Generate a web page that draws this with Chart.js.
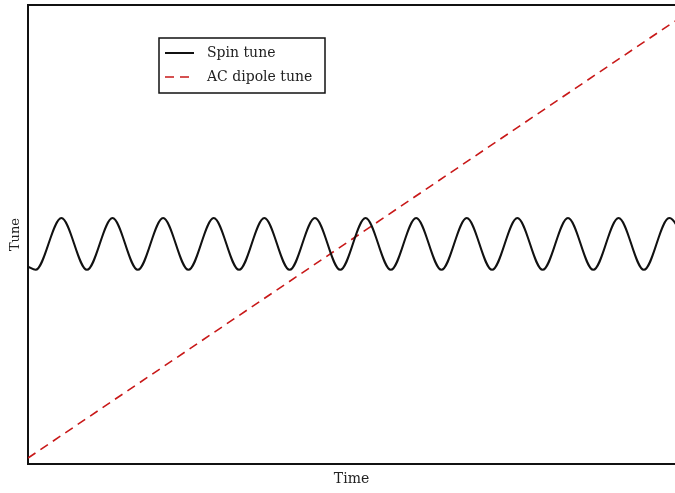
<!DOCTYPE html>
<html>
<head>
<meta charset="utf-8">
<script src="https://cdn.jsdelivr.net/npm/chart.js@4/dist/chart.umd.min.js"></script>
<style>
  html, body { margin: 0; padding: 0; background: #fff; overflow: hidden; }
  #wrap { position: relative; width: 675px; height: 493px; }
</style>
</head>
<body>
<div id="wrap"><canvas id="tuneChartId"></canvas></div>
<script>
// time in half-periods of the spin tune oscillation (axis has no tick labels)
var spinTime = [0, 0.3, 1.32, 2.33, 3.34, 4.34, 5.34, 6.34, 7.34, 8.34, 9.34, 10.34, 11.34,
    12.34, 13.34, 14.34, 15.34, 16.34, 17.34, 18.34, 19.34, 20.34, 21.34, 22.34, 23.34,
    24.34, 25.34, 26.34];
var spinTune = [0.43, 0.423, 0.536, 0.423, 0.536, 0.423, 0.536, 0.423, 0.536, 0.423, 0.536,
    0.423, 0.536, 0.423, 0.536, 0.423, 0.536, 0.423, 0.536, 0.423, 0.536, 0.423, 0.536,
    0.423, 0.536, 0.423, 0.536, 0.423];
var dipoleTime = [0, 25.57];
var dipoleTune = [0.013, 0.965];
var seriesLabels = ['Spin tune', 'AC dipole tune'];

var serif = "'DejaVu Serif', 'Liberation Serif', serif";

function toPoints(xs, ys) {
    var pts = [];
    for (var i = 0; i < xs.length; i++) {
        pts.push({ x: xs[i], y: ys[i] });
    }
    return pts;
}

// legend box drawn inside the plot, from the dataset settings
var boxLegend = {
    id: 'boxLegend',
    afterDraw: function(chart) {
        var ctx = chart.ctx;
        var ds = chart.data.datasets;
        var x = 159, y = 38, w = 166, h = 55;
        ctx.save();
        ctx.fillStyle = '#fff';
        ctx.fillRect(x, y, w, h);
        ctx.strokeStyle = '#111';
        ctx.lineWidth = 1.5;
        ctx.strokeRect(x, y, w, h);
        ctx.font = '14px ' + serif;
        ctx.textBaseline = 'middle';
        for (var i = 0; i < ds.length; i++) {
            var ly = 53 + i * 24;
            ctx.beginPath();
            ctx.strokeStyle = ds[i].borderColor;
            ctx.lineWidth = ds[i].borderWidth;
            ctx.setLineDash(ds[i].borderDash || []);
            ctx.moveTo(165, ly);
            ctx.lineTo(194, ly);
            ctx.stroke();
            ctx.setLineDash([]);
            ctx.fillStyle = '#222';
            ctx.fillText(ds[i].label, 207, ly);
        }
        ctx.restore();
    }
};

function init() {
    var el = document.getElementById('tuneChartId').getContext('2d');
    new Chart(el, {
        type: 'line',
        data: {
            datasets: [
                {
                    label: seriesLabels[0],
                    data: toPoints(spinTime, spinTune),
                    borderColor: '#111',
                    borderWidth: 2,
                    pointRadius: 0,
                    cubicInterpolationMode: 'monotone'
                },
                {
                    label: seriesLabels[1],
                    data: toPoints(dipoleTime, dipoleTune),
                    borderColor: '#c81818',
                    borderWidth: 1.6,
                    borderDash: [9, 6],
                    pointRadius: 0
                }
            ]
        },
        options: {
            responsive: true,
            maintainAspectRatio: false,
            animation: false,
            layout: { padding: 0 },
            plugins: { legend: { display: false }, tooltip: { enabled: false } },
            scales: {
                x: {
                    type: 'linear',
                    min: 0,
                    max: 25.57,
                    grid: { display: false },
                    ticks: { display: false },
                    border: { display: true, color: '#111', width: 2 },
                    title: { display: true, text: 'Time', color: '#222', font: { family: serif, size: 14 }, padding: { top: 0, bottom: 5 } },
                    afterFit: function(s) { s.height = 29; }
                },
                xTop: {
                    type: 'linear',
                    position: 'top',
                    grid: { display: false },
                    ticks: { display: false },
                    border: { display: true, color: '#111', width: 2 },
                    afterFit: function(s) { s.height = 5; }
                },
                y: {
                    min: 0,
                    max: 1,
                    grid: { display: false },
                    ticks: { display: false },
                    border: { display: true, color: '#111', width: 2 },
                    title: { display: true, text: 'Tune', color: '#222', font: { family: serif, size: 13 }, padding: { top: 8, bottom: 0 } },
                    afterFit: function(s) { s.width = 28; }
                }
            }
        },
        plugins: [boxLegend]
    });
}

init();
</script>
</body>
</html>
